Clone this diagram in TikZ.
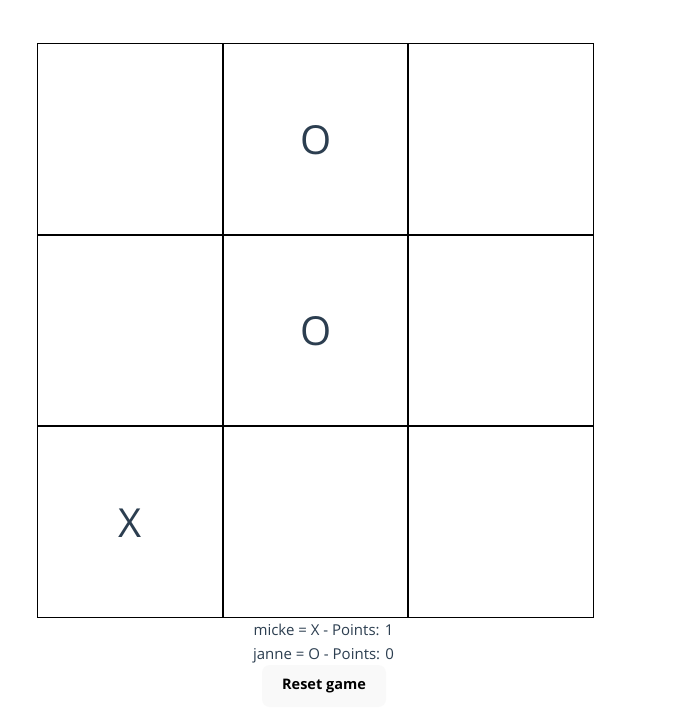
\documentclass[tikz,border=0pt]{standalone}
\usepackage{fontspec}
\setmainfont{Open Sans}
\definecolor{txt}{HTML}{2C3E50}
\definecolor{btnbg}{HTML}{F9F9F9}
\tikzset{
  cell/.style={draw=black, line width=1pt, minimum width=184.6pt, minimum height=190.5pt, inner sep=0pt, outer sep=0pt},
  sym/.style={text=txt, font=\fontsize{40}{48}\selectfont, inner sep=0pt, yshift=-1pt},
  info/.style={text=txt, font=\fontsize{15}{18}\selectfont, inner sep=0pt, anchor=base},
  btn/.style={fill=btnbg, rounded corners=8pt, minimum width=124pt, minimum height=42pt, inner sep=0pt, text=black, font=\fontsize{14.5}{17}\selectfont\bfseries}
}
\begin{document}
\begin{tikzpicture}[x=1pt,y=-1pt]
\useasboundingbox (0,0) rectangle (684,713);
\fill[white] (0,0) rectangle (684,713);
\node[cell] (c11) at (130,138.75) {};
\node[cell] (c12) at (315.6,138.75) {};
\node[cell] (c13) at (501.2,138.75) {};
\node[cell] (c21) at (130,330.25) {};
\node[cell] (c22) at (315.6,330.25) {};
\node[cell] (c23) at (501.2,330.25) {};
\node[cell] (c31) at (130,521.75) {};
\node[cell] (c32) at (315.6,521.75) {};
\node[cell] (c33) at (501.2,521.75) {};
\node[sym] (o1) at (c12.center) {O};
\node[sym] (o2) at (c22.center) {O};
\node[sym] (x1) at (c31.center) {X};
\node[info] (l1) at (323.5,635) {micke = X - Points: 1};
\node[info] (l2) at (323.5,659) {janne = O - Points: 0};
\node[btn] (reset) at (324,686) {Reset game};
\end{tikzpicture}
\end{document}
